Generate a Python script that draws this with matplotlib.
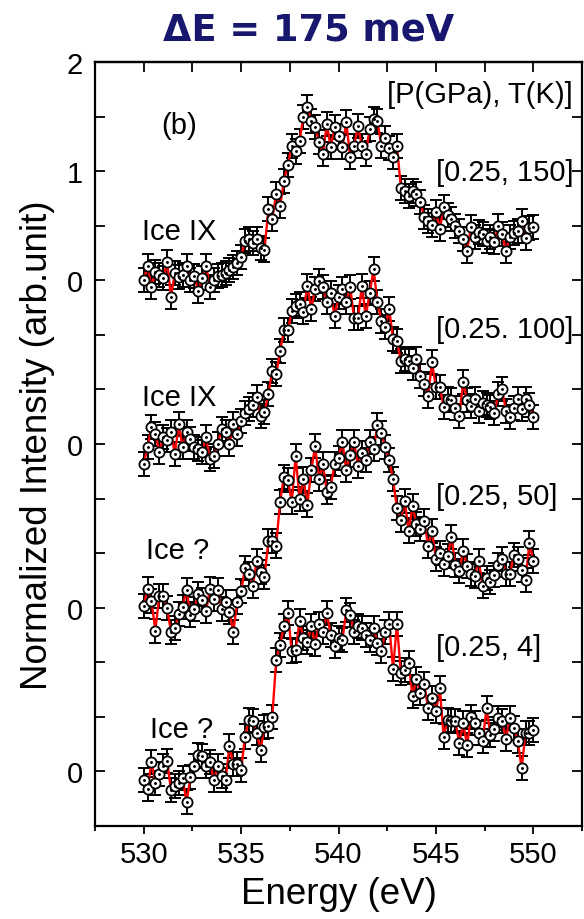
import numpy as np
import matplotlib
matplotlib.use("Agg")
import matplotlib.pyplot as plt
from matplotlib.ticker import MultipleLocator, FixedLocator

plt.rcParams['font.family'] = ['Liberation Sans', 'DejaVu Sans']

# spectra, relative to their own baseline (arb. units), 530..550 eV
sp_150 = [0.00, 0.13, -0.06, 0.08, 0.05, 0.02, 0.17, -0.15, 0.07, 0.03,
          0.05, 0.13, 0.00, 0.04, -0.10, 0.02, 0.13, -0.06, 0.00, 0.04,
          0.05, 0.07, 0.09, 0.12, 0.16, 0.21, 0.36, 0.38, 0.34, 0.38,
          0.30, 0.28, 0.65, 0.56, 0.79, 0.68, 0.91, 1.06, 1.23, 1.18,
          1.28, 1.50, 1.59, 1.46, 1.40, 1.27, 1.16, 1.43, 1.22, 1.40,
          1.32, 1.22, 1.45, 1.13, 1.23, 1.41, 1.23, 1.16, 1.39, 1.48,
          1.46, 1.23, 1.30, 1.21, 1.13, 1.23, 0.85, 0.82, 0.77, 0.82,
          0.79, 0.72, 0.58, 0.54, 0.51, 0.63, 0.47, 0.67, 0.60, 0.56,
          0.50, 0.45, 0.38, 0.27, 0.49, 0.40, 0.44, 0.42, 0.36, 0.40,
          0.35, 0.50, 0.42, 0.27, 0.40, 0.43, 0.45, 0.54, 0.39, 0.48,
          0.49]
sp_100 = [-0.18, -0.03, 0.16, 0.09, -0.07, 0.06, 0.04, 0.11, -0.09, 0.18,
          -0.03, 0.11, 0.05, -0.03, -0.05, -0.07, 0.06, -0.14, -0.11, 0.00,
          0.14, 0.11, 0.00, 0.18, 0.09, 0.21, 0.28, 0.32, 0.36, 0.43,
          0.26, 0.29, 0.46, 0.67, 0.64, 0.85, 1.04, 1.04, 1.22, 1.26,
          1.28, 1.21, 1.45, 1.24, 1.42, 1.49, 1.44, 1.30, 1.38, 1.17,
          1.35, 1.42, 1.30, 1.44, 1.15, 1.15, 1.45, 1.17, 1.38, 1.60,
          1.30, 1.13, 1.07, 1.24, 0.96, 0.94, 0.76, 0.78, 0.76, 0.70,
          0.78, 0.62, 0.55, 0.44, 0.75, 0.52, 0.52, 0.34, 0.41, 0.40,
          0.33, 0.26, 0.57, 0.40, 0.35, 0.41, 0.30, 0.38, 0.36, 0.34,
          0.28, 0.46, 0.50, 0.30, 0.25, 0.33, 0.41, 0.32, 0.41, 0.36,
          0.25]
sp_50 = [0.02, 0.17, 0.06, -0.21, 0.11, 0.11, 0.00, -0.22, -0.19, -0.06,
         0.01, 0.16, -0.07, -0.01, 0.13, 0.07, -0.03, 0.17, 0.08, 0.16,
         -0.01, 0.05, -0.04, -0.22, 0.05, 0.15, 0.36, 0.31, 0.20, 0.43,
         0.33, 0.28, 0.61, 0.61, 0.57, 0.97, 1.20, 1.17, 0.97, 1.39,
         1.00, 1.18, 0.94, 1.26, 1.48, 1.18, 1.32, 1.06, 1.11, 1.32,
         1.37, 1.52, 1.26, 1.40, 1.52, 1.30, 1.42, 1.35, 1.52, 1.45,
         1.67, 1.60, 1.47, 1.35, 1.18, 0.91, 0.80, 0.98, 0.70, 0.93,
         0.77, 0.72, 0.79, 0.57, 0.70, 0.45, 0.50, 0.40, 0.47, 0.65,
         0.39, 0.34, 0.52, 0.38, 0.31, 0.29, 0.43, 0.20, 0.27, 0.24,
         0.30, 0.39, 0.45, 0.31, 0.31, 0.48, 0.45, 0.35, 0.25, 0.59,
         0.43]
sp_4 = [-0.08, -0.16, 0.09, -0.11, -0.02, 0.05, 0.10, -0.17, -0.13, -0.11,
        -0.06, -0.28, -0.05, 0.05, 0.15, 0.14, 0.05, 0.09, -0.08, 0.05,
        -0.04, -0.08, 0.23, 0.07, 0.07, 0.01, 0.32, 0.47, 0.46, 0.35,
        0.20, 0.41, 0.42, 0.50, 1.02, 1.16, 1.33, 1.45, 1.10, 1.11,
        1.38, 1.22, 1.19, 1.33, 1.17, 1.35, 1.28, 1.45, 1.25, 1.15,
        1.22, 1.20, 1.48, 1.43, 1.28, 1.33, 1.31, 1.25, 1.20, 1.31,
        1.18, 1.10, 1.28, 1.35, 0.94, 1.35, 0.90, 0.93, 0.99, 0.69,
        0.85, 0.72, 0.80, 0.58, 0.67, 0.55, 0.76, 0.32, 0.47, 0.46,
        0.46, 0.26, 0.44, 0.24, 0.50, 0.44, 0.35, 0.28, 0.58, 0.33,
        0.39, 0.49, 0.46, 0.30, 0.49, 0.40, 0.28, 0.03, 0.35, 0.35,
        0.38]

spectra = [sp_150, sp_100, sp_50, sp_4]
offsets = [0.0, -1.5, -3.0, -4.5]
err = 0.11

cond_labels = ["[0.25, 150]", "[0.25. 100]", "[0.25, 50]", "[0.25, 4]"]
cond_pos = [(545.0, 0.92), (545.0, -0.52), (545.0, -2.05), (545.0, -3.43)]
phase_labels = ["Ice IX", "Ice IX", "Ice ?", "Ice ?"]
phase_pos = [(529.9, 0.38), (529.9, -1.14), (530.1, -2.54), (530.3, -4.18)]

ytick_pos = [2, 1, 0, -1.5, -3, -4.5]
ytick_txt = ["2", "1", "0", "0", "0", "0"]

fig = plt.figure(figsize=(5.84, 9.2), dpi=100)
ax = fig.add_axes([95/584, 1-827/920, 487/584, 764/920])

for vals, off in zip(spectra, offsets):
    x = np.linspace(530, 550, len(vals))
    y = np.array(vals) + off
    ax.errorbar(x, y, yerr=err, fmt='none', ecolor='black', elinewidth=1.4,
                capsize=4.5, capthick=1.4, zorder=2)
    ax.plot(x, y, color='red', lw=1.7, zorder=3)
    ax.plot(x, y, 'o', ms=7.3, mfc='white', mec='black', mew=1.3, zorder=4)
    ax.plot(x, y, '.', ms=2.2, color='black', zorder=5)

for t, (px, py) in zip(cond_labels, cond_pos):
    ax.text(px, py, t, fontsize=21, va='baseline', ha='left')
for t, (px, py) in zip(phase_labels, phase_pos):
    ax.text(px, py, t, fontsize=21, va='baseline', ha='left')
ax.text(542.5, 1.63, "[P(GPa), T(K)]", fontsize=21, va='baseline', ha='left')
ax.text(530.9, 1.35, "(b)", fontsize=21, va='baseline', ha='left')

ax.set_xlim(527.5, 552.5)
ax.set_ylim(-5, 2)
ax.xaxis.set_major_locator(MultipleLocator(5))
ax.xaxis.set_minor_locator(MultipleLocator(2.5))
ax.tick_params(axis='x', which='major', direction='out', length=6, width=1.3,
               labelsize=21, pad=4)
ax.tick_params(axis='x', which='minor', direction='out', length=3.5, width=1.3)

ax.yaxis.set_major_locator(FixedLocator(ytick_pos))
ax.set_yticklabels(ytick_txt)
ax.yaxis.set_minor_locator(MultipleLocator(0.5))
ax.tick_params(axis='y', which='both', direction='in', length=7, width=1.3,
               right=True, labelsize=21, pad=9)

top = ax.secondary_xaxis('top')
top.xaxis.set_major_locator(MultipleLocator(2.5))
top.tick_params(axis='x', direction='in', length=7, width=1.3, labeltop=False)
top.spines['top'].set_linewidth(1.6)

for s in ax.spines.values():
    s.set_linewidth(1.6)

ax.set_xlabel("Energy (eV)", fontsize=26.5, labelpad=6)
ax.set_ylabel("Normalized Intensity (arb.unit)", fontsize=26.5, labelpad=8)

fig.text(0.528, 0.967, "\u0394E = 175 meV", fontsize=26.5, fontweight='bold',
         color='#17176e', ha='center', va='center', family='DejaVu Sans')

fig.savefig("out.png", dpi=100)
